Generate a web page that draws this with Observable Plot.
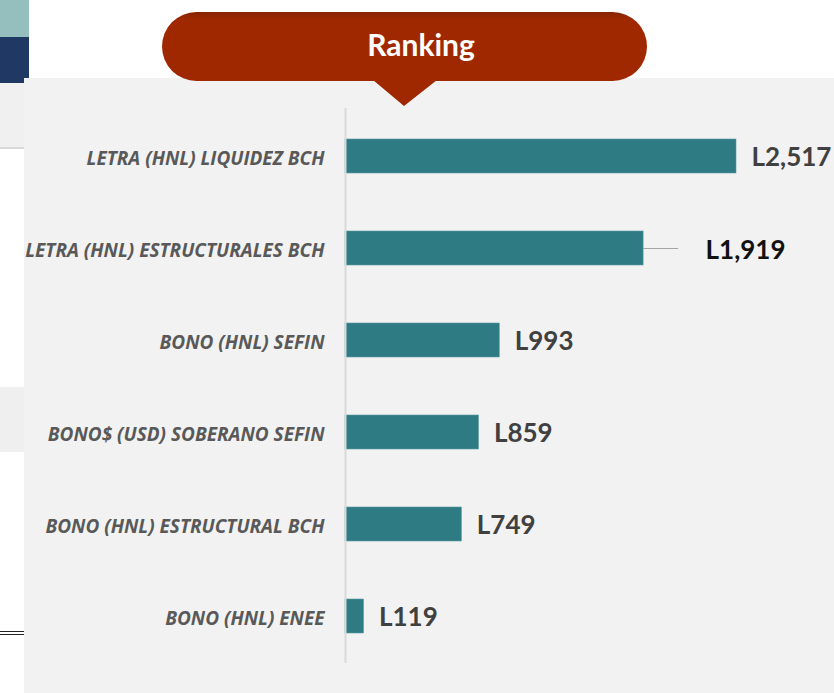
<!DOCTYPE html>
<html>
<head>
<meta charset="utf-8">
<script src="https://cdn.jsdelivr.net/npm/d3@7"></script>
<script src="https://cdn.jsdelivr.net/npm/@observablehq/plot@0.6"></script>
<style>
  html, body { margin: 0; padding: 0; background: #ffffff; }
  #wrap { position: relative; width: 834px; height: 693px; overflow: hidden; font-family: Lato, "Open Sans", sans-serif; }
  .abs { position: absolute; }
  #chart { position: absolute; left: 0; top: 0; }
  #chart svg { background: transparent !important; }
</style>
</head>
<body>
<div id="wrap">
  <!-- left strip fragments -->
  <div class="abs" style="left:0;top:0;width:29px;height:37px;background:#95bfbe"></div>
  <div class="abs" style="left:0;top:37px;width:29px;height:46px;background:#1f3864"></div>
  <div class="abs" style="left:0;top:83px;width:29px;height:64px;background:#f0f0f0;border-bottom:2px solid #d9d9d9"></div>
  <div class="abs" style="left:0;top:387px;width:29px;height:65px;background:#efefef"></div>
  <div class="abs" style="left:0;top:631px;width:28px;height:1px;background:#222"></div>
  <div class="abs" style="left:0;top:634px;width:28px;height:1px;background:#222"></div>
  <!-- panel -->
  <div class="abs" style="left:24px;top:78px;width:810px;height:615px;background:#f2f2f2"></div>
  <!-- banner -->
  <svg class="abs" style="left:0;top:0" width="834" height="120">
    <defs>
      <linearGradient id="bg" x1="0" y1="0" x2="0" y2="1">
        <stop offset="0" stop-color="#862400"/>
        <stop offset="0.12" stop-color="#a02800"/>
        <stop offset="1" stop-color="#a02800"/>
      </linearGradient>
    </defs>
    <path d="M373,80 L404,106 L437,80 Z" fill="#a02800"/>
    <rect x="162" y="12" width="485" height="69" rx="34.5" ry="34.5" fill="url(#bg)"/>
    <text x="421" y="56" text-anchor="middle" fill="#ffffff" font-family="Lato, 'Open Sans', sans-serif" font-weight="700" font-size="30">Ranking</text>
  </svg>
  <div id="chart"></div>
</div>
<script>
const categories = [
  "LETRA (HNL) LIQUIDEZ BCH",
  "LETRA (HNL) ESTRUCTURALES BCH",
  "BONO (HNL) SEFIN",
  "BONO$ (USD) SOBERANO SEFIN",
  "BONO (HNL) ESTRUCTURAL BCH",
  "BONO (HNL) ENEE"
];
const values = [2517, 1919, 993, 859, 749, 119];
const labels = ["L2,517", "L1,919", "L993", "L859", "L749", "L119"];

const data = categories.map((c, i) => ({cat: c, value: values[i], label: labels[i], i}));
const maxV = d3.max(values);
const pxLeft = 345, pxRight = 736;
const unitPerPx = maxV / (pxRight - pxLeft);

const normal = data.filter(d => d.i !== 1);
const offset = data.filter(d => d.i === 1);

const plot = Plot.plot({
  width: 834,
  height: 693,
  marginLeft: pxLeft,
  marginRight: 834 - pxRight,
  marginTop: 108,
  marginBottom: 30,
  style: {background: "transparent", overflow: "visible"},
  x: {domain: [0, maxV], axis: null},
  y: {domain: categories, paddingInner: 0.633, paddingOuter: 0.313, label: null, axis: null},
  marks: [
    Plot.barX(data, {y: "cat", x: "value", fill: "#2e7b84", stroke: "#5a9aa0", strokeWidth: 0.6}),
    Plot.ruleX([0], {stroke: "#d9d9d9", strokeWidth: 2}),
    Plot.text(data, {y: "cat", text: "cat", frameAnchor: "left", dx: -21, dy: 2, textAnchor: "end",
      fontSize: 19, fontStyle: "italic", fontWeight: 700, fill: "#595959",
      fontFamily: "'Open Sans', Lato, sans-serif"}),
    Plot.text(normal, {y: "cat", x: "value", text: "label", dx: 15, dy: 1, textAnchor: "start",
      fill: "#404040", fontWeight: 700, fontSize: 26, fontFamily: "Lato, 'Open Sans', sans-serif"}),
    Plot.ruleY(offset, {y: "cat", x1: "value", x2: d => d.value + 35 * unitPerPx, stroke: "#a6a6a6", strokeWidth: 1.2}),
    Plot.text(offset, {y: "cat", x: "value", text: "label", dx: 62, dy: 2, textAnchor: "start",
      fill: "#111111", fontWeight: 700, fontSize: 26, fontFamily: "Lato, 'Open Sans', sans-serif"})
  ]
});
document.getElementById("chart").appendChild(plot);
</script>
</body>
</html>
